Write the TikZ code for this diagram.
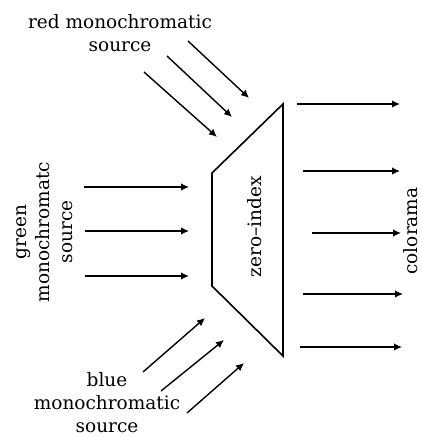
\documentclass[tikz,border=0pt]{standalone}
\usepackage{fontspec}
\setmainfont{DejaVu Serif}
\usetikzlibrary{arrows.meta}
\begin{document}
\begin{tikzpicture}[x=1pt,y=-1pt,
  ray/.style={line width=1.4pt,-{Latex[length=8pt,width=7.5pt]}},
  lbl/.style={font=\fontsize{18.5}{23}\selectfont,align=center,inner sep=0pt},
  plate/.style={line width=1.6pt,line join=miter}]
\useasboundingbox (0,0) rectangle (422,437);
% zero-index plate
\coordinate (tr) at (283,104);
\coordinate (br) at (283,356);
\coordinate (tl) at (212,173);
\coordinate (bl) at (212,286);
\draw[plate] (tr) -- (br) -- (bl) -- (tl) -- cycle;
\node[lbl,rotate=90] (zi) at (255,227) {zero–index};
% labels
\node[lbl] (red) at (120,33) {red monochromatic\\source};
\node[lbl,rotate=90] (green) at (45,232) {green\\monochromatc\\source};
\node[lbl] (blue) at (107,403) {blue\\monochromatic\\source};
\node[lbl,rotate=90] (colorama) at (411,231) {colorama};
% red rays
\coordinate (r1a) at (188,41);  \coordinate (r1b) at (249,98);
\coordinate (r2a) at (167,56);  \coordinate (r2b) at (232,117);
\coordinate (r3a) at (144,72);  \coordinate (r3b) at (217,137);
\draw[ray] (r1a) -- (r1b);
\draw[ray] (r2a) -- (r2b);
\draw[ray] (r3a) -- (r3b);
% green rays
\coordinate (g1a) at (84,187);  \coordinate (g1b) at (189,187);
\coordinate (g2a) at (85,231);  \coordinate (g2b) at (189,231);
\coordinate (g3a) at (85,276);  \coordinate (g3b) at (189,276);
\draw[ray] (g1a) -- (g1b);
\draw[ray] (g2a) -- (g2b);
\draw[ray] (g3a) -- (g3b);
% blue rays
\coordinate (b1a) at (143,372); \coordinate (b1b) at (205,318);
\coordinate (b2a) at (161,391); \coordinate (b2b) at (224,340);
\coordinate (b3a) at (187,413); \coordinate (b3b) at (244,363);
\draw[ray] (b1a) -- (b1b);
\draw[ray] (b2a) -- (b2b);
\draw[ray] (b3a) -- (b3b);
% output rays
\coordinate (o1a) at (297,104); \coordinate (o1b) at (400,104);
\coordinate (o2a) at (303,171); \coordinate (o2b) at (400,171);
\coordinate (o3a) at (312,233); \coordinate (o3b) at (401,233);
\coordinate (o4a) at (303,294); \coordinate (o4b) at (403,294);
\coordinate (o5a) at (300,347); \coordinate (o5b) at (402,347);
\draw[ray] (o1a) -- (o1b);
\draw[ray] (o2a) -- (o2b);
\draw[ray] (o3a) -- (o3b);
\draw[ray] (o4a) -- (o4b);
\draw[ray] (o5a) -- (o5b);
\end{tikzpicture}
\end{document}
